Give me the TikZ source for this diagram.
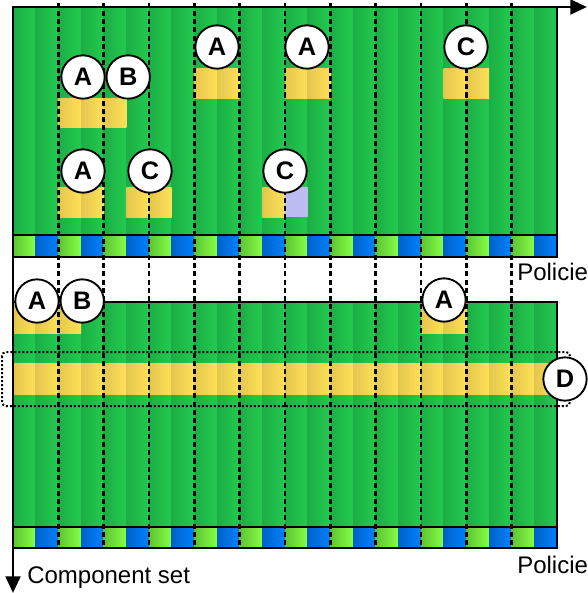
\documentclass[tikz,border=0pt]{standalone}
\usepackage{fontspec}
\setmainfont{Liberation Sans}
\usetikzlibrary{positioning,arrows.meta}

\definecolor{grLight}{HTML}{22CA50}
\definecolor{grDark}{HTML}{1CAE44}
\definecolor{yeLight}{HTML}{FFE157}
\definecolor{yeDark}{HTML}{E3C64E}
\definecolor{limeLight}{HTML}{88FF44}
\definecolor{limeDark}{HTML}{5CC434}
\definecolor{blueLight}{HTML}{0080FF}
\definecolor{blueDark}{HTML}{0063C8}
\definecolor{lavender}{HTML}{BCBCF2}

\tikzset{
  tag/.style={circle, draw, fill=white, line width=1.4pt, minimum size=32.5pt, inner sep=0pt,
    font=\bfseries\fontsize{19}{22}\selectfont},
  grass/.style={left color=grDark, right color=grLight},
  yel/.style={left color=yeDark, right color=yeLight},
  lime/.style={left color=limeDark, right color=limeLight},
  sky/.style={left color=blueDark, right color=blueLight},
  panel/.style={draw, line width=2pt},
  slot/.style={line width=1.9pt, dash pattern=on 3.8pt off 2.3pt},
  axis/.style={line width=2.2pt, -{Triangle[length=12.5pt,width=11pt]}},
  caption/.style={font=\fontsize{18}{21}\selectfont, inner sep=0pt}
}

\def\hw{22.667}

\begin{document}
\begin{tikzpicture}[x=0.75pt, y=-0.75pt]
        \useasboundingbox (0,0) rectangle (587,593);
        % Green columns of both panels
        \foreach \j in {0,...,23} {
          \shade[grass] ({13+\j*\hw},7) rectangle ({13+(\j+1)*\hw},235);
          \shade[grass] ({13+\j*\hw},302) rectangle ({13+(\j+1)*\hw},527);
        }
        % Policy strips
        \foreach \i in {0,...,11} {
          \shade[lime] ({13+2*\i*\hw},235) rectangle ({13+(2*\i+1)*\hw},257);
          \shade[sky] ({13+(2*\i+1)*\hw},235) rectangle ({13+(2*\i+2)*\hw},257);
          \shade[lime] ({13+2*\i*\hw},527) rectangle ({13+(2*\i+1)*\hw},548);
          \shade[sky] ({13+(2*\i+1)*\hw},527) rectangle ({13+(2*\i+2)*\hw},548);
        }
        % Yellow blocks in the first panel
        \foreach \j in {2,3,4} \shade[yel] ({13+\j*\hw},98) rectangle ({13+(\j+1)*\hw},127);
        \foreach \j in {8,9,12,13,19,20} \shade[yel] ({13+\j*\hw},68) rectangle ({13+(\j+1)*\hw},98);
        \foreach \j in {2,3,5,6,11} \shade[yel] ({13+\j*\hw},187) rectangle ({13+(\j+1)*\hw},217);
        \fill[lavender] ({13+12*\hw},187) rectangle ({13+13*\hw},217);
        % Yellow blocks in the second panel
        \foreach \j in {0,1,2,18,19} \shade[yel] ({13+\j*\hw},302) rectangle ({13+(\j+1)*\hw},333);
        \foreach \j in {0,...,23} \shade[yel] ({13+\j*\hw},363) rectangle ({13+(\j+1)*\hw},394);
        % Panel borders
        \draw[panel] (13,7) rectangle (557,257);
        \draw[panel] (13,235) -- (557,235);
        \draw[panel] (13,302) rectangle (557,548);
        \draw[panel] (13,527) -- (557,527);
        % Selected row
        \draw[line width=1.5pt, dash pattern=on 1.5pt off 1.5pt, rounded corners=3pt] (2,352) rectangle (570,406);
        % Column boundaries
        \foreach \k in {1,...,11}
          \draw[slot] ({13+2*\k*\hw},3) -- ({13+2*\k*\hw},548);
        % Axes
        \coordinate (orig) at (13,7);
        \coordinate (xend) at (587,7);
        \coordinate (yend) at (13,593);
        \draw[axis] (orig) -- (xend);
        \draw[axis] (orig) -- (yend);
        \node[caption, anchor=west] (cset) at (27,578) {Component set};
        \node[caption, anchor=west] (pol1) at (517,272) {Policie};
        \node[caption, anchor=west] (pol2) at (517,565) {Policie};
        % Labels in the first panel
        \node[tag] (A1) at (83,77) {A};
        \node[tag, right=0pt of A1] (B1) {B};
        \node[tag] (A2) at (217,47) {A};
        \node[tag] (A3) at (307,47) {A};
        \node[tag] (C1) at (466,47) {C};
        \node[tag] (A4) at (83,171) {A};
        \node[tag] (C2) at (150,171) {C};
        \node[tag] (C3) at (285,171) {C};
        % Labels in the second panel
        \node[tag] (A5) at (37,301) {A};
        \node[tag, right=0pt of A5] (B2) {B};
        \node[tag] (A6) at (444,300) {A};
        \node[tag] (D1) at (565,379) {D};
\end{tikzpicture}
\end{document}
